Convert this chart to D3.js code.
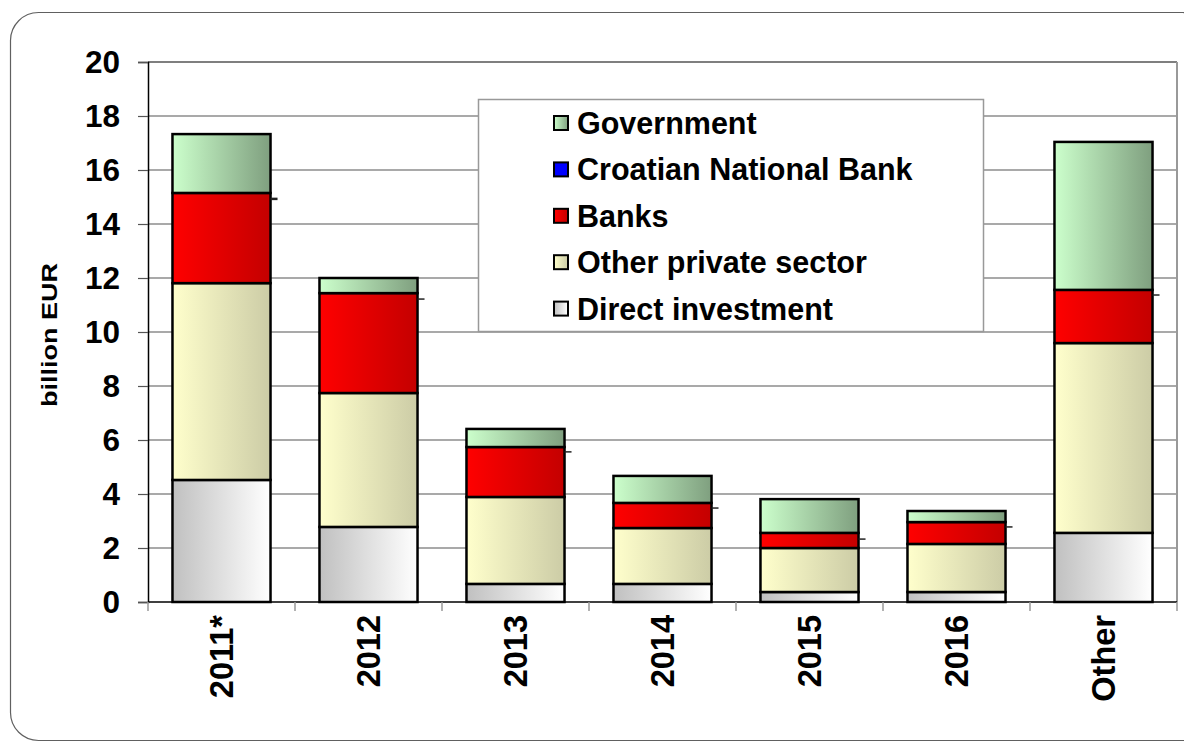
<!DOCTYPE html>
<html><head><meta charset="utf-8">
<script src="https://cdn.jsdelivr.net/npm/d3@7"></script>
<style>body{margin:0;background:#fff}svg{display:block;font-family:"Liberation Sans",Arial,sans-serif;font-weight:bold}</style>
</head><body><svg id="c" width="1184" height="752"></svg>
<script>
const categories = ["2011*","2012","2013","2014","2015","2016","Other"];
const directInvestment = [4.52,2.78,0.67,0.67,0.37,0.37,2.56];
const otherPrivate     = [7.29,4.96,3.22,2.07,1.63,1.78,7.03];
const banks            = [3.34,3.70,1.85,0.93,0.56,0.81,1.97];
const cnb              = [0,0,0,0,0,0,0];
const government       = [2.18,0.56,0.67,1.00,1.25,0.41,5.48];
const markerValues     = [14.93,11.22,5.56,3.48,2.33,2.78,11.37];
const yTicks = [0,2,4,6,8,10,12,14,16,18,20];
const seriesNames = ["Direct investment","Other private sector","Banks","Croatian National Bank","Government"];
const legendOrder = ["Government","Croatian National Bank","Banks","Other private sector","Direct investment"];
const yLabel = "billion EUR";

const gradStops = {
  "Direct investment":["#c0c0c0","#ffffff"],
  "Other private sector":["#ffffcc","#cccca6"],
  "Banks":["#ff0000","#c40000"],
  "Croatian National Bank":["#0000ff","#0000ff"],
  "Government":["#ccffcc","#7f9f7f"]
};
const seriesVals = [directInvestment, otherPrivate, banks, cnb, government];

const svg = d3.select("#c");
const defs = svg.append("defs");
seriesNames.forEach((n,i)=>{
  const g = defs.append("linearGradient").attr("id","g"+i).attr("x1","0").attr("x2","1").attr("y1","0").attr("y2","0");
  g.append("stop").attr("offset","0").attr("stop-color",gradStops[n][0]);
  g.append("stop").attr("offset","1").attr("stop-color",gradStops[n][1]);
});

// outer frame
svg.append("rect").attr("x",10.5).attr("y",12.5).attr("width",1200).attr("height",728)
  .attr("rx",28).attr("fill","none").attr("stroke","#606060").attr("stroke-width",1.2);

const L=148, R=1177, T=62, B=602;
const x = d3.scaleBand().domain(categories).range([L,R]).paddingInner(0.333).paddingOuter(0.1665);
const y = d3.scaleLinear().domain([0,20]).range([B,T]);

// gridlines
svg.append("g").selectAll("line").data(yTicks.filter(t=>t>0&&t<20)).join("line")
  .attr("x1",L).attr("x2",R).attr("y1",d=>y(d)).attr("y2",d=>y(d))
  .attr("stroke","#8c8c8c").attr("stroke-width",1.5);
// plot top & right border
svg.append("line").attr("x1",L).attr("x2",R).attr("y1",y(20)).attr("y2",y(20)).attr("stroke","#000").attr("stroke-width",1.2);
svg.append("line").attr("x1",R).attr("x2",R).attr("y1",y(20)).attr("y2",B).attr("stroke","#999").attr("stroke-width",2);

// y axis
const yAxis = d3.axisLeft(y).tickValues(yTicks).tickSize(10).tickPadding(18).tickFormat(d3.format("d"));
const ga = svg.append("g").attr("transform",`translate(${L},0)`).call(yAxis);
ga.select(".domain").attr("stroke","#000").attr("stroke-width",1.5);
ga.selectAll(".tick line").attr("stroke","#555").attr("stroke-width",1.2);
ga.selectAll(".tick text").attr("font-size",31.5).attr("font-weight","bold").attr("fill","#000")
  .attr("font-family","Liberation Sans, Arial, sans-serif");

// x axis
const xb = svg.append("g");
xb.append("line").attr("x1",L).attr("x2",R).attr("y1",B).attr("y2",B).attr("stroke","#000").attr("stroke-width",1.5);
const step = x.step();
xb.selectAll("line.tk").data(d3.range(categories.length+1)).join("line").attr("class","tk")
  .attr("x1",i=>L+i*step).attr("x2",i=>L+i*step).attr("y1",B).attr("y2",B+9)
  .attr("stroke","#999").attr("stroke-width",1.5);
xb.selectAll("text").data(categories).join("text")
  .attr("transform",d=>`translate(${x(d)+x.bandwidth()/2},${B+13}) rotate(-90)`)
  .attr("text-anchor","end").attr("dy","0.35em").attr("font-size",32.5).text(d=>d);

// y label
svg.append("text").attr("transform",`translate(57,${(T+B)/2+3}) rotate(-90)`)
  .attr("text-anchor","middle").attr("font-size",22)
  .attr("textLength",144).attr("lengthAdjust","spacingAndGlyphs").text(yLabel);

// stacked bars
const rows = categories.map((c,i)=>{ const o={cat:c}; seriesNames.forEach((n,k)=>o[n]=seriesVals[k][i]); return o;});
const stack = d3.stack().keys(seriesNames)(rows);
stack.forEach((layer,k)=>{
  svg.append("g").selectAll("rect").data(layer.filter(d=>d[1]-d[0]>0)).join("rect")
    .attr("x",d=>x(d.data.cat)).attr("width",x.bandwidth())
    .attr("y",d=>y(d[1])).attr("height",d=>y(d[0])-y(d[1]))
    .attr("fill",`url(#g${k})`).attr("stroke","#000").attr("stroke-width",2.5);
});
// small marker dashes
svg.append("g").selectAll("line").data(markerValues).join("line")
  .attr("x1",(d,i)=>x(categories[i])+x.bandwidth()).attr("x2",(d,i)=>x(categories[i])+x.bandwidth()+7)
  .attr("y1",d=>y(d)).attr("y2",d=>y(d)).attr("stroke","#222").attr("stroke-width",(d,i)=>i===0?2.5:1.5);

// legend
const lg = svg.append("g");
lg.append("rect").attr("x",478.5).attr("y",99.5).attr("width",505).attr("height",232)
  .attr("fill","#fff").attr("stroke","#999").attr("stroke-width",1.5);
legendOrder.forEach((n,i)=>{
  const cy = 123 + i*46.4;
  const k = seriesNames.indexOf(n);
  lg.append("rect").attr("x",554).attr("y",cy-7).attr("width",14).attr("height",14)
    .attr("fill",`url(#g${k})`).attr("stroke","#000").attr("stroke-width",2);
  lg.append("text").attr("x",577).attr("y",cy).attr("dy","0.36em").attr("font-size",30.5).text(n);
});
</script></body></html>
